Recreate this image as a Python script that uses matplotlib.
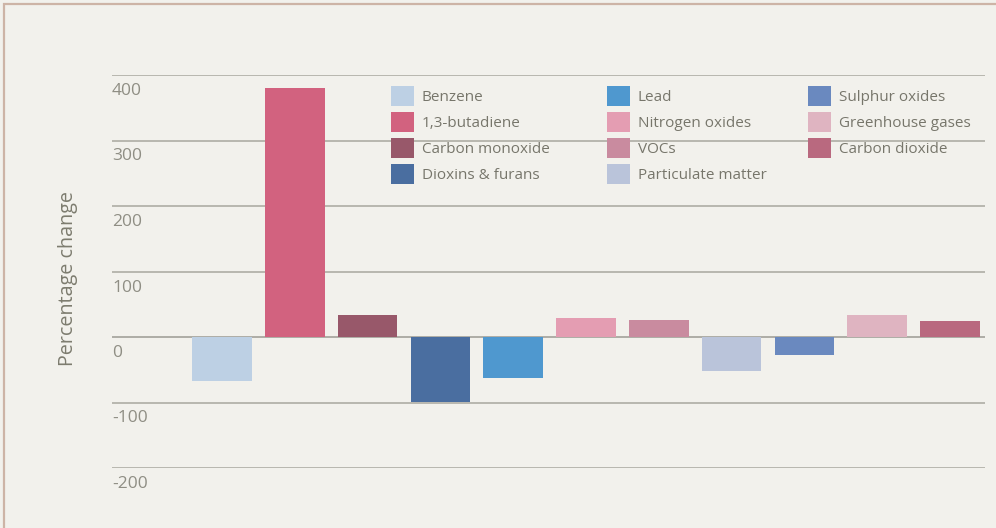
import matplotlib
matplotlib.use("Agg")
import matplotlib.pyplot as plt
from matplotlib.transforms import offset_copy
from matplotlib.patches import Rectangle, Patch

pollutants = ["Benzene", "1,3-butadiene", "Carbon monoxide", "Dioxins & furans",
              "Lead", "Nitrogen oxides", "VOCs", "Particulate matter",
              "Sulphur oxides", "Greenhouse gases", "Carbon dioxide"]
pct_change = [-67, 380, 34, -99, -63, 29, 26, -52, -28, 33, 25]
bar_colors = ["#bdd0e4", "#d2627f", "#98586a", "#4a6ea0", "#4f98cf",
              "#e49db2", "#c98b9f", "#bac4da", "#6a89bf", "#dfb4c1", "#b9697f"]
y_ticks = [400, 300, 200, 100, 0, -100, -200]
y_tick_labels = ["400", "300", "200", "100", "0", "-100", "-200"]

W, H = 996, 528
fig = plt.figure(figsize=(W / 100, H / 100), dpi=100, facecolor="#f2f1ec")
plt.rcParams["font.family"] = ["Open Sans", "DejaVu Sans"]

# frame of the scanned panel
fig.add_artist(Rectangle((4 / W, -0.01), 1.0, 1 - 4 / H + 0.01, transform=fig.transFigure,
                         fill=False, edgecolor="#cdb4a6", lw=1.6))

ax = fig.add_axes([112 / W, 1 - 468 / H, 873 / W, (468 - 75) / H])
ax.set_facecolor("none")
ax.set_xlim(-1.51, 10.48)
ax.set_ylim(-200, 400)
for s in ax.spines.values():
    s.set_visible(False)
ax.set_xticks([])
ax.set_yticks([])

for v in y_ticks:
    ax.axhline(v, color="#b3b2aa" if v != 0 else "#a8a7a0", lw=1.3, zorder=1)

x = list(range(len(pollutants)))
bars = ax.bar(x, pct_change, width=0.82, color=bar_colors, zorder=2)

trans = offset_copy(ax.get_yaxis_transform(), fig=fig, x=0, y=-16, units="dots")
for v, lab in zip(y_ticks, y_tick_labels):
    ax.text(0.0, v, lab, transform=trans, ha="left", va="center",
            fontsize=12.5, color="#8f8e84", clip_on=False)

fig.text(68 / W, 1 - 279 / H, "Percentage change", rotation=90, ha="center", va="center",
         fontsize=14.2, color="#7d7c6f")

# legend in three columns
col_x = [391, 607, 808]
groups = [range(0, 4), range(4, 8), range(8, 11)]
for cx, g in zip(col_x, groups):
    handles = [Patch(facecolor=bar_colors[i], edgecolor="none") for i in g]
    labels = [pollutants[i] for i in g]
    fig.legend(handles, labels, loc="upper left",
               bbox_to_anchor=(cx / W, 1 - 86 / H), bbox_transform=fig.transFigure,
               frameon=False, borderpad=0, borderaxespad=0,
               fontsize=11, handlelength=1.5, handleheight=1.64,
               handletextpad=0.5, labelspacing=0.4, labelcolor="#77766b")

fig.savefig("out.png", dpi=100, facecolor=fig.get_facecolor())
